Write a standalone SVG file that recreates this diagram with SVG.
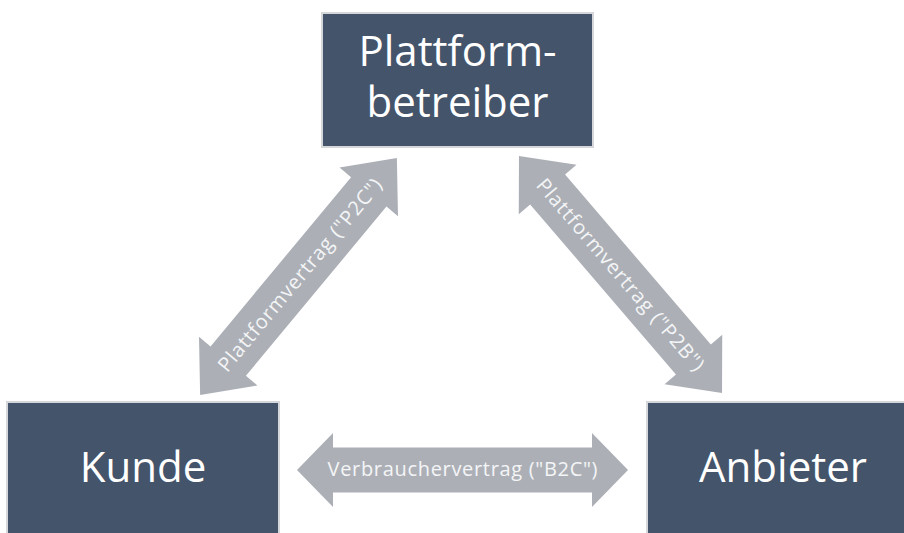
<svg xmlns="http://www.w3.org/2000/svg" width="904" height="533" viewBox="0 0 904 533">
  <defs>
    <style>
      .box { fill: #44546a; stroke: #d5d7da; stroke-width: 2; }
      .box-label { font-family: "Open Sans", "Noto Sans", "DejaVu Sans", sans-serif; font-size: 42px; fill: #ffffff; text-anchor: middle; }
      .arrow { fill: #acb0b6; }
      .arrow-label { font-family: "Open Sans", "Noto Sans", "DejaVu Sans", sans-serif; font-size: 20px; fill: #f4f5f6; text-anchor: middle; }
    </style>
  </defs>

  <rect width="904" height="533" fill="#ffffff"/>

  <!-- connectors: double-headed block arrows, drawn along the x axis and rotated into place -->
  <g id="connectors">
    <g id="p2c" transform="translate(298.5,276.5) rotate(-50.3)">
      <polygon class="arrow" points="-154,0 -110,-38 -110,-23 110,-23 110,-38 154,0 110,38 110,23 -110,23 -110,38"/>
      <text class="arrow-label" x="2" y="7" textLength="244" lengthAdjust="spacing">Plattformvertrag ("P2C")</text>
    </g>
    <g id="p2b" transform="translate(620.5,274.5) rotate(49.4)">
      <polygon class="arrow" points="-156,0 -112,-38 -112,-23 112,-23 112,-38 156,0 112,38 112,23 -112,23 -112,38"/>
      <text class="arrow-label" x="0" y="7" textLength="246" lengthAdjust="spacing">Plattformvertrag ("P2B")</text>
    </g>
    <g id="b2c" transform="translate(462.5,470)">
      <polygon class="arrow" points="-165.5,0 -129.5,-37 -129.5,-22.5 129.5,-22.5 129.5,-37 165.5,0 129.5,37 129.5,22.5 -129.5,22.5 -129.5,37"/>
      <text class="arrow-label" x="0" y="6" textLength="270" lengthAdjust="spacing">Verbrauchervertrag ("B2C")</text>
    </g>
  </g>

  <!-- parties -->
  <g id="plattformbetreiber">
    <rect class="box" x="322" y="13" width="271" height="134"/>
    <text class="box-label" x="457.5" y="66">Plattform-</text>
    <text class="box-label" x="457.5" y="117">betreiber</text>
  </g>
  <g id="kunde">
    <rect class="box" x="7" y="402" width="272" height="150"/>
    <text class="box-label" x="143" y="482">Kunde</text>
  </g>
  <g id="anbieter">
    <rect class="box" x="647" y="402" width="272" height="150"/>
    <text class="box-label" x="783" y="482">Anbieter</text>
  </g>
</svg>
